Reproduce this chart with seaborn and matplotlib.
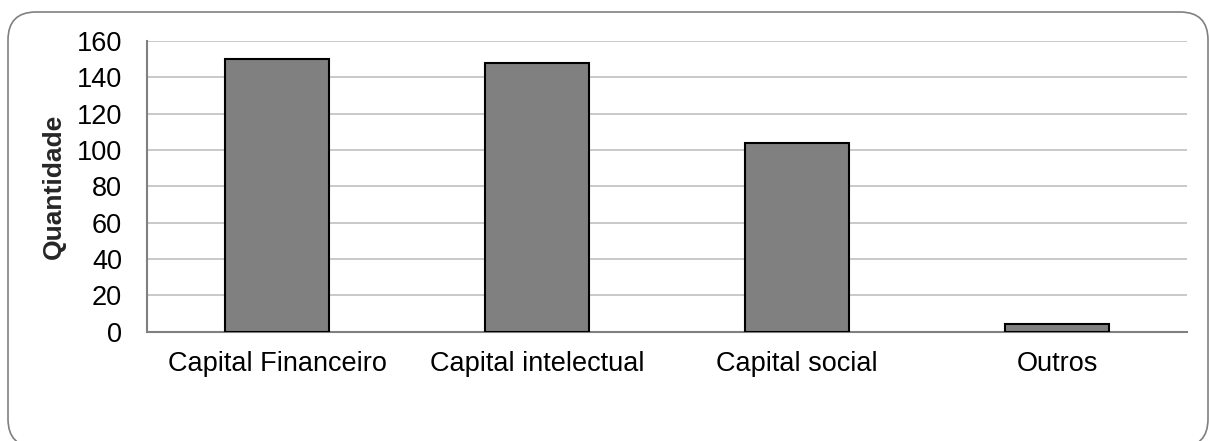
import matplotlib
matplotlib.use("Agg")
import matplotlib.pyplot as plt
from matplotlib.patches import FancyBboxPatch
import seaborn as sns
import pandas as pd

categorias = ["Capital Financeiro", "Capital intelectual", "Capital social", "Outros"]
quantidades = [150, 148, 104, 4]
yticks = [0, 20, 40, 60, 80, 100, 120, 140, 160]

sns.set_theme(style="white")
plt.rcParams["font.family"] = ["Liberation Sans", "DejaVu Sans"]

df = pd.DataFrame({"categoria": categorias, "quantidade": quantidades})

fig = plt.figure(figsize=(12.09, 4.41), dpi=100)
ax = fig.add_axes([147 / 1209, 1 - 331.7 / 441, 1040 / 1209, 290.7 / 441])

sns.barplot(data=df, x="categoria", y="quantidade", color="#808080",
            saturation=1, width=0.4, edgecolor="black", linewidth=1.5,
            ax=ax, zorder=3)

ax.set_xlim(-0.5, 3.5)
ax.set_ylim(0, 160)
ax.set_yticks(yticks)
ax.yaxis.grid(True, color="#c0c0c0", linewidth=1.2, zorder=0)
ax.xaxis.grid(False)
ax.set_xlabel("")
ax.set_ylabel("Quantidade", fontsize=19, fontweight="bold",
              family="Liberation Sans", labelpad=8)
ax.tick_params(axis="both", length=0, labelsize=19.5, colors="black")
ax.tick_params(axis="x", pad=14)
ax.tick_params(axis="y", pad=18)

for side in ["top", "right"]:
    ax.spines[side].set_visible(False)
ax.spines["left"].set_color("#808080")
ax.spines["bottom"].set_color("#808080")
ax.spines["left"].set_linewidth(1.5)
ax.spines["bottom"].set_linewidth(1.5)

# rounded frame around the whole chart (inches)
frame = FancyBboxPatch((0.08, -0.06), 12.0, 4.29 + 0.06,
                       boxstyle="round,pad=0,rounding_size=0.28",
                       transform=fig.dpi_scale_trans, facecolor="none",
                       edgecolor="#808080", linewidth=1.2)
fig.patches.append(frame)

fig.savefig("out.png", dpi=100)
